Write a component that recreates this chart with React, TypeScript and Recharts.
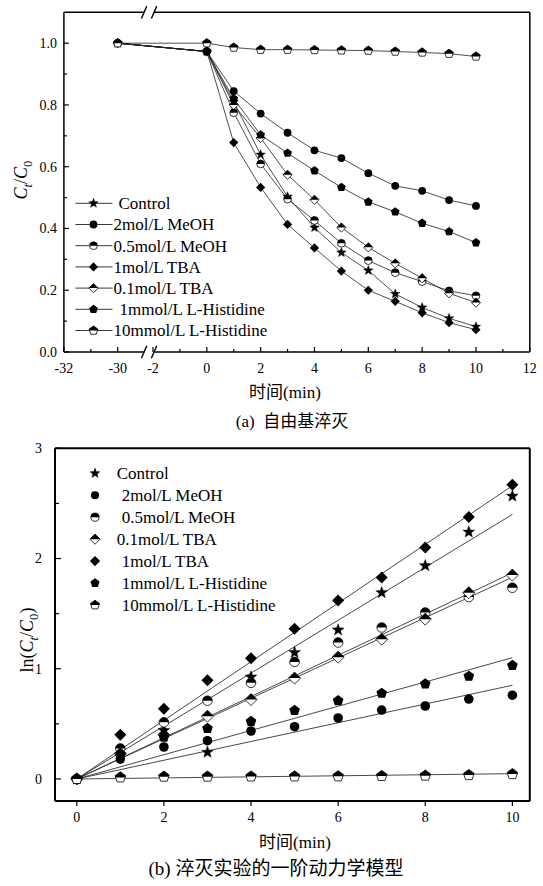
import React from 'react';
import {
  LineChart,
  Line,
  XAxis,
  YAxis,
  ReferenceLine,
  Legend,
  ComposedChart,
  Scatter,
} from 'recharts';

const FONT = "'Liberation Serif','Times New Roman','Noto Sans CJK SC',serif";

// ---------------- (a) C_t/C_0 data ----------------
const timeA = [-30, 0, 1, 2, 3, 4, 5, 6, 7, 8, 9, 10];
const breakShiftA = 26.69; // t=-30 is drawn at u=-3.31 on the broken axis
const controlA = [1.0, 0.973, 0.81, 0.639, 0.503, 0.403, 0.322, 0.264, 0.188, 0.144, 0.109, 0.082];
const meoh2A = [1.0, 0.973, 0.845, 0.772, 0.71, 0.653, 0.628, 0.579, 0.538, 0.522, 0.492, 0.473];
const meoh05A = [1.0, 0.973, 0.775, 0.609, 0.495, 0.426, 0.352, 0.296, 0.257, 0.228, 0.198, 0.182];
const tba1A = [1.0, 0.973, 0.678, 0.533, 0.413, 0.337, 0.262, 0.2, 0.164, 0.127, 0.095, 0.072];
const tba01A = [1.0, 0.973, 0.8, 0.693, 0.574, 0.493, 0.403, 0.339, 0.287, 0.239, 0.19, 0.16];
const his1A = [1.0, 0.973, 0.82, 0.703, 0.644, 0.587, 0.533, 0.486, 0.454, 0.417, 0.39, 0.354];
const his10A = [1.0, 1.0, 0.986, 0.979, 0.979, 0.978, 0.977, 0.976, 0.973, 0.97, 0.966, 0.957];

const namesA = ['Control', '2mol/L MeOH', '0.5mol/L MeOH', '1mol/L TBA', '0.1mol/L TBA', '1mmol/L L-Histidine', '10mmol/L L-Histidine'];
const kindsA = ['star', 'circle', 'halfCircle', 'diamond', 'halfDiamond', 'pentagon', 'halfPentagon'];
const valuesA = [controlA, meoh2A, meoh05A, tba1A, tba01A, his1A, his10A];

const xTickValuesA = [-5.31, -4.31, -3.31, -2, -1, 0, 1, 2, 3, 4, 5, 6, 7, 8, 9, 10, 11, 12];
const xTickLabelsA = ['-32', '', '-30', '-2', '', '0', '', '2', '', '4', '', '6', '', '8', '', '10', '', '12'];
const yTickValuesA = [0, 0.1, 0.2, 0.3, 0.4, 0.5, 0.6, 0.7, 0.8, 0.9, 1.0];
const yTickLabelsA = ['0.0', '', '0.2', '', '0.4', '', '0.6', '', '0.8', '', '1.0'];

// ---------------- (b) ln(C_t/C_0) data ----------------
const timeB = [0, 1, 2, 3, 4, 5, 6, 7, 8, 9, 10];
const controlB = [0, 0.22, 0.44, 0.242, 0.925, 1.147, 1.352, 1.69, 1.935, 2.24, 2.566];
const meoh2B = [0, 0.18, 0.29, 0.347, 0.435, 0.474, 0.553, 0.625, 0.662, 0.725, 0.76];
const meoh05B = [0, 0.277, 0.514, 0.71, 0.872, 1.062, 1.238, 1.374, 1.51, 1.65, 1.735];
const tba01B = [0, 0.23, 0.4, 0.57, 0.72, 0.915, 1.105, 1.268, 1.45, 1.69, 1.85];
const tba1B = [0, 0.4, 0.637, 0.895, 1.096, 1.362, 1.618, 1.827, 2.1, 2.376, 2.67];
const his1B = [0, 0.21, 0.378, 0.459, 0.522, 0.622, 0.71, 0.777, 0.862, 0.932, 1.03];
const his10B = [0, 0.014, 0.021, 0.021, 0.022, 0.023, 0.024, 0.027, 0.03, 0.035, 0.044];

const namesB = ['Control', '2mol/L MeOH', '0.5mol/L MeOH', '0.1mol/L TBA', '1mol/L TBA', '1mmol/L L-Histidine', '10mmol/L L-Histidine'];
const kindsB = ['star', 'circle', 'halfCircle', 'halfDiamond', 'diamond', 'pentagon', 'halfPentagon'];
const valuesB = [controlB, meoh2B, meoh05B, tba01B, tba1B, his1B, his10B];

// first-order fit lines, read at t=0 and t=10
const fitTimesB = [0, 10];
const fitStartB = [0, 0, 0, 0, 0, 0, 0];
const fitEndB = [2.4, 0.85, 1.83, 1.87, 2.66, 1.1, 0.048];

const xTickValuesB = [0, 2, 4, 6, 8, 10];
const yTickValuesB = [0, 0.5, 1, 1.5, 2, 2.5, 3];
const yTickLabelsB = ['0', '', '1', '', '2', '', '3'];

// ---------------- markers ----------------
const Marker = ({ cx, cy, kind, s }: any) => {
  if (cx == null || cy == null || Number.isNaN(cx) || Number.isNaN(cy)) return null;
  const sw = 0.8;
  if (kind === 'star') {
    const pts: string[] = [];
    for (let i = 0; i < 10; i++) {
      const r = i % 2 === 0 ? s : s * 0.42;
      const a = -Math.PI / 2 + (i * Math.PI) / 5;
      pts.push(`${cx + r * Math.cos(a)},${cy + r * Math.sin(a)}`);
    }
    return <polygon points={pts.join(' ')} fill="#000" stroke="#000" strokeWidth={0.4} />;
  }
  if (kind === 'circle') {
    return <circle cx={cx} cy={cy} r={s} fill="#000" />;
  }
  if (kind === 'halfCircle') {
    const r = s;
    return (
      <g>
        <circle cx={cx} cy={cy} r={r} fill="#fff" stroke="#000" strokeWidth={sw} />
        <path d={`M${cx - r},${cy} A${r},${r} 0 0 1 ${cx + r},${cy} Z`} fill="#000" />
      </g>
    );
  }
  if (kind === 'diamond') {
    return <polygon points={`${cx},${cy - s} ${cx + s},${cy} ${cx},${cy + s} ${cx - s},${cy}`} fill="#000" />;
  }
  if (kind === 'halfDiamond') {
    return (
      <g>
        <polygon points={`${cx},${cy - s} ${cx + s},${cy} ${cx},${cy + s} ${cx - s},${cy}`} fill="#fff" stroke="#000" strokeWidth={sw} />
        <polygon points={`${cx - s},${cy} ${cx},${cy - s} ${cx + s},${cy}`} fill="#000" />
      </g>
    );
  }
  const pent: string[] = [];
  for (let i = 0; i < 5; i++) {
    const a = -Math.PI / 2 + (i * 2 * Math.PI) / 5;
    pent.push(`${cx + s * Math.cos(a)},${cy + s * Math.sin(a)}`);
  }
  if (kind === 'pentagon') {
    return <polygon points={pent.join(' ')} fill="#000" />;
  }
  const top = [
    [-0.8507, 0],
    [-0.951, -0.309],
    [0, -1],
    [0.951, -0.309],
    [0.8507, 0],
  ]
    .map(([a, b]) => `${cx + a * s},${cy + b * s}`)
    .join(' ');
  return (
    <g>
      <polygon points={pent.join(' ')} fill="#fff" stroke="#000" strokeWidth={sw} />
      <polygon points={top} fill="#000" />
    </g>
  );
};

const sizeA: any = { star: 5, circle: 3.9, halfCircle: 3.9, diamond: 4.6, halfDiamond: 4.6, pentagon: 4.6, halfPentagon: 4.6 };
const sizeB: any = { star: 6.2, circle: 4.8, halfCircle: 4.8, diamond: 6, halfDiamond: 6, pentagon: 5.6, halfPentagon: 5.6 };

// ---------------- tick renderers ----------------
const makeXTick = (values: number[], labels: string[], inward: boolean, major: number, minor: number) => (p: any) => {
  const { x, y, payload } = p;
  const idx = values.findIndex((v) => Math.abs(v - payload.value) < 1e-6);
  const label = idx >= 0 ? labels[idx] : String(payload.value);
  const len = label !== '' ? major : minor;
  return (
    <g>
      <line x1={x} x2={x} y1={y} y2={inward ? y - len : y + len} stroke="#000" strokeWidth={1.2} />
      {label !== '' && (
        <text x={x} y={y + 16} dy="0.35em" textAnchor="middle" fontSize={14} fontFamily={FONT} fill="#000">
          {label}
        </text>
      )}
    </g>
  );
};

const makeYTick = (values: number[], labels: string[], gap: number, major: number, minor: number) => (p: any) => {
  const { x, y, payload } = p;
  const idx = values.findIndex((v) => Math.abs(v - payload.value) < 1e-6);
  const label = idx >= 0 ? labels[idx] : String(payload.value);
  const len = label !== '' ? major : minor;
  return (
    <g>
      <line x1={x} x2={x + len} y1={y} y2={y} stroke="#000" strokeWidth={1.2} />
      {label !== '' && (
        <text x={x - gap} y={y} dy="0.35em" textAnchor="end" fontSize={14} fontFamily={FONT} fill="#000">
          {label}
        </text>
      )}
    </g>
  );
};

// ---------------- legends ----------------
const legendDxA = [5, 0, 0, 0, 0, 6, 0];
const LegendA = () => (
  <svg width={543} height={400} style={{ overflow: 'visible', display: 'block' }}>
    {namesA.map((n, i) => {
      const y = 203.3 + i * 21.2;
      return (
        <g key={n}>
          <line x1={75.4} x2={112.5} y1={y} y2={y} stroke="#222" strokeWidth={0.9} />
          <Marker cx={93.5} cy={y} kind={kindsA[i]} s={sizeA[kindsA[i]]} />
          <text x={113.5 + legendDxA[i]} y={y} dy="0.35em" fontSize={17} fontFamily={FONT} fill="#000">
            {n}
          </text>
        </g>
      );
    })}
  </svg>
);

const legendDxB = [0, 5, 5, 0, 5, 5, 5];
const LegendB = () => (
  <svg width={543} height={400} style={{ overflow: 'visible', display: 'block' }}>
    {namesB.map((n, i) => {
      const y = 43.3 + i * 21.95;
      return (
        <g key={n}>
          <Marker cx={95} cy={y} kind={kindsB[i]} s={sizeB[kindsB[i]] * 0.85} />
          <text x={116.7 + legendDxB[i]} y={y} dy="0.35em" fontSize={17} fontFamily={FONT} fill="#000">
            {n}
          </text>
        </g>
      );
    })}
  </svg>
);

// ---------------- table building ----------------
const keysA = ['s0', 's1', 's2', 's3', 's4', 's5', 's6'];
const rowsA = timeA.map((t, i) => {
  const row: any = { u: t < -20 ? t + breakShiftA : t };
  valuesA.forEach((vals, k) => {
    row[keysA[k]] = vals[i];
  });
  return row;
});

const pointsB = valuesB.map((vals) => timeB.map((t, i) => ({ x: t, y: vals[i] })));
const fitsB = fitEndB.map((end, k) => [
  { x: fitTimesB[0], y: fitStartB[k] },
  { x: fitTimesB[1], y: end },
]);

const X_MIN_A = -5.31;
const X_MAX_A = 12;
const Y_MAX_A = 1.1;
const BREAK_L = -2.33;
const BREAK_R = -1.96;

const slash = (u: number, yv: number) => (
  <ReferenceLine
    key={`sl-${u}-${yv}`}
    segment={[
      { x: u - 0.1, y: yv - 0.02 },
      { x: u + 0.1, y: yv + 0.02 },
    ]}
    stroke="#000"
    strokeWidth={1.4}
    ifOverflow="visible"
  />
);

const frameSeg = (x1: number, y1: number, x2: number, y2: number, w: number) => (
  <ReferenceLine
    key={`fr-${x1}-${y1}-${x2}-${y2}`}
    segment={[
      { x: x1, y: y1 },
      { x: x2, y: y2 },
    ]}
    stroke="#000"
    strokeWidth={w}
    ifOverflow="visible"
  />
);

const absText = (left: number, top: number, size: number, content: any, extra: any = {}) => (
  <div
    style={{
      position: 'absolute',
      left,
      top,
      transform: 'translate(-50%,-50%)',
      fontFamily: FONT,
      fontSize: size,
      color: '#000',
      whiteSpace: 'pre',
      lineHeight: 1,
      ...extra,
    }}
  >
    {content}
  </div>
);

export default function App() {
  return (
    <div style={{ position: 'absolute', left: 0, top: 0, width: 543, height: 886, background: '#fff', overflow: 'hidden' }}>
      <div style={{ position: 'absolute', left: 0, top: 0 }}>
        <LineChart width={543} height={400} data={rowsA} margin={{ top: 12.3, right: 13.2, bottom: 18, left: 0 }}>
          <XAxis
            dataKey="u"
            type="number"
            domain={[X_MIN_A, X_MAX_A]}
            ticks={xTickValuesA}
            interval={0}
            height={30}
            axisLine={false}
            tickLine={false}
            tickSize={0}
            tickMargin={0}
            allowDataOverflow
            tick={makeXTick(xTickValuesA, xTickLabelsA, true, 5, 3)}
          />
          <YAxis
            type="number"
            domain={[0, Y_MAX_A]}
            ticks={yTickValuesA}
            interval={0}
            width={63.9}
            axisLine={{ stroke: '#000', strokeWidth: 1.5 }}
            tickLine={false}
            tickSize={0}
            tickMargin={0}
            allowDataOverflow
            tick={makeYTick(yTickValuesA, yTickLabelsA, 7, 5, 3)}
          />
          {frameSeg(X_MIN_A, 0, BREAK_L, 0, 1.5)}
          {frameSeg(BREAK_R, 0, X_MAX_A, 0, 1.5)}
          {frameSeg(X_MIN_A, Y_MAX_A, BREAK_L, Y_MAX_A, 1.5)}
          {frameSeg(BREAK_R, Y_MAX_A, X_MAX_A, Y_MAX_A, 1.5)}
          {frameSeg(X_MAX_A, 0, X_MAX_A, Y_MAX_A, 1.5)}
          {slash(BREAK_L, 0)}
          {slash(BREAK_R, 0)}
          {slash(BREAK_L, Y_MAX_A)}
          {slash(BREAK_R, Y_MAX_A)}
          {keysA.map((k, i) => (
            <Line
              key={k}
              dataKey={k}
              name={namesA[i]}
              type="linear"
              stroke="#222"
              strokeWidth={0.8}
              isAnimationActive={false}
              dot={(p: any) => <Marker key={`${k}-${p.index}`} cx={p.cx} cy={p.cy} kind={kindsA[i]} s={sizeA[kindsA[i]]} />}
              activeDot={false}
            />
          ))}
          <Legend
            layout="vertical"
            align="center"
            verticalAlign="middle"
            content={() => <LegendA />}
            wrapperStyle={{ left: 0, top: 0, width: 543, height: 400, pointerEvents: 'none' }}
          />
        </LineChart>
      </div>

      <div style={{ position: 'absolute', left: 0, top: 430 }}>
        <ComposedChart width={543} height={400} margin={{ top: 18.3, right: 13.2, bottom: 0, left: 0 }}>
          <XAxis
            dataKey="x"
            type="number"
            domain={[-0.5, 10.4]}
            ticks={xTickValuesB}
            interval={0}
            height={29}
            axisLine={{ stroke: '#000', strokeWidth: 2 }}
            tickLine={false}
            tickSize={0}
            tickMargin={0}
            allowDataOverflow
            tick={makeXTick(xTickValuesB, xTickValuesB.map(String), false, 5, 5)}
          />
          <YAxis
            dataKey="y"
            type="number"
            domain={[-0.2, 3]}
            ticks={yTickValuesB}
            interval={0}
            width={55}
            axisLine={{ stroke: '#000', strokeWidth: 2 }}
            tickLine={false}
            tickSize={0}
            tickMargin={0}
            allowDataOverflow
            tick={makeYTick(yTickValuesB, yTickLabelsB, 13, 6, 4)}
          />
          {frameSeg(-0.5, 3, 10.4, 3, 2)}
          {frameSeg(10.4, -0.2, 10.4, 3, 2)}
          {fitsB.map((d, i) => (
            <Line
              key={`fit-${i}`}
              data={d}
              dataKey="y"
              type="linear"
              stroke="#333"
              strokeWidth={0.9}
              dot={false}
              activeDot={false}
              isAnimationActive={false}
              legendType="none"
            />
          ))}
          {pointsB.map((d, i) => (
            <Scatter
              key={`pts-${i}`}
              data={d}
              name={namesB[i]}
              isAnimationActive={false}
              shape={(p: any) => <Marker cx={p.cx} cy={p.cy} kind={kindsB[i]} s={sizeB[kindsB[i]]} />}
            />
          ))}
          <Legend
            layout="vertical"
            align="center"
            verticalAlign="middle"
            content={() => <LegendB />}
            wrapperStyle={{ left: 0, top: 0, width: 543, height: 400, pointerEvents: 'none' }}
          />
        </ComposedChart>
      </div>

      {absText(22.5, 180, 18, (
        <span>
          <i>C</i>
          <sub style={{ fontSize: '0.7em' }}><i>t</i></sub>/<i>C</i>
          <sub style={{ fontSize: '0.7em' }}>0</sub>
        </span>
      ), { transform: 'translate(-50%,-50%) rotate(-90deg)' })}
      {absText(285, 392, 17, '时间(min)')}
      {absText(292, 421, 17, '(a)  自由基淬灭')}

      {absText(29, 640, 18, (
        <span>
          ln(<i>C</i>
          <sub style={{ fontSize: '0.7em' }}><i>t</i></sub>/<i>C</i>
          <sub style={{ fontSize: '0.7em' }}>0</sub>)
        </span>
      ), { transform: 'translate(-50%,-50%) rotate(-90deg)' })}
      {absText(295, 842, 17, '时间(min)')}
      {absText(276, 868, 19, '(b) 淬灭实验的一阶动力学模型')}
    </div>
  );
}
